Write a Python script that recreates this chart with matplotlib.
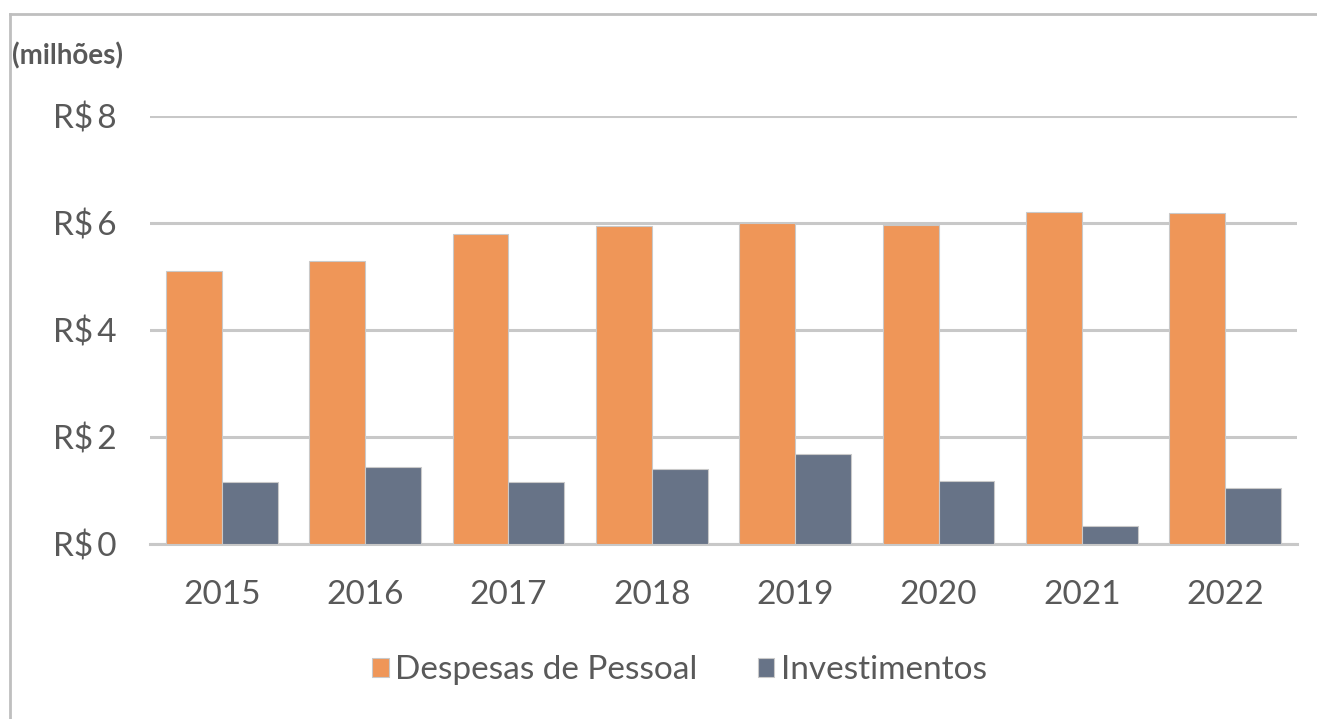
import matplotlib
matplotlib.use("Agg")
import matplotlib.pyplot as plt
from matplotlib.lines import Line2D
import numpy as np

anos = ["2015", "2016", "2017", "2018", "2019", "2020", "2021", "2022"]
despesas_pessoal = [5.10, 5.29, 5.79, 5.94, 6.00, 5.97, 6.21, 6.19]
investimentos = [1.15, 1.44, 1.15, 1.40, 1.68, 1.18, 0.33, 1.05]
y_ticks = [0, 2, 4, 6, 8]

laranja = "#EF9658"
cinza = "#677387"
texto = "#595959"
grade = "#C8C8C8"

plt.rcParams["font.family"] = ["Lato", "DejaVu Sans"]

fig = plt.figure(figsize=(13.17, 7.19), dpi=100)
ax = fig.add_axes([0.1139, 0.2434, 0.8709, 0.5953])

x = np.arange(len(anos))
w = 0.39
ax.bar(x - w / 2, despesas_pessoal, w, color=laranja, edgecolor="#C9C9C9",
       linewidth=0.8, label="Despesas de Pessoal", zorder=3)
ax.bar(x + w / 2, investimentos, w, color=cinza, edgecolor="#C9C9C9",
       linewidth=0.8, label="Investimentos", zorder=3)

ax.set_xlim(-0.5, len(anos) - 0.5)
ax.set_ylim(0, 8)
ax.set_yticks(y_ticks)
ax.set_yticklabels(["R$\u2009%d" % v for v in y_ticks])
ax.set_xticks(x)
ax.set_xticklabels(anos)
ax.tick_params(axis="both", length=0, colors=texto, labelsize=24)
ax.tick_params(axis="y", pad=24)
ax.tick_params(axis="x", pad=26)
ax.grid(axis="y", color=grade, linewidth=2.2, zorder=0)
for s in ["top", "right", "left"]:
    ax.spines[s].set_visible(False)
ax.spines["bottom"].set_color(grade)
ax.spines["bottom"].set_linewidth(2.2)

fig.text(0.009, 0.922, "(milhões)", fontsize=20, fontweight="bold",
         color=texto, ha="left", va="center")

fig.legend(loc="center", bbox_to_anchor=(0.516, 0.068), ncol=2, frameon=False,
           fontsize=24, handlelength=0.5, handleheight=0.5, handletextpad=0.2,
           columnspacing=1.8, labelcolor=texto)

# moldura (topo e esquerda)
fig.add_artist(Line2D([0.0076, 1.0], [0.980, 0.980], color="#BFBFBF", lw=2,
                      transform=fig.transFigure))
fig.add_artist(Line2D([0.0076, 0.0076], [0.0, 0.980], color="#BFBFBF", lw=2,
                      transform=fig.transFigure))

fig.savefig("out.png", dpi=100)
